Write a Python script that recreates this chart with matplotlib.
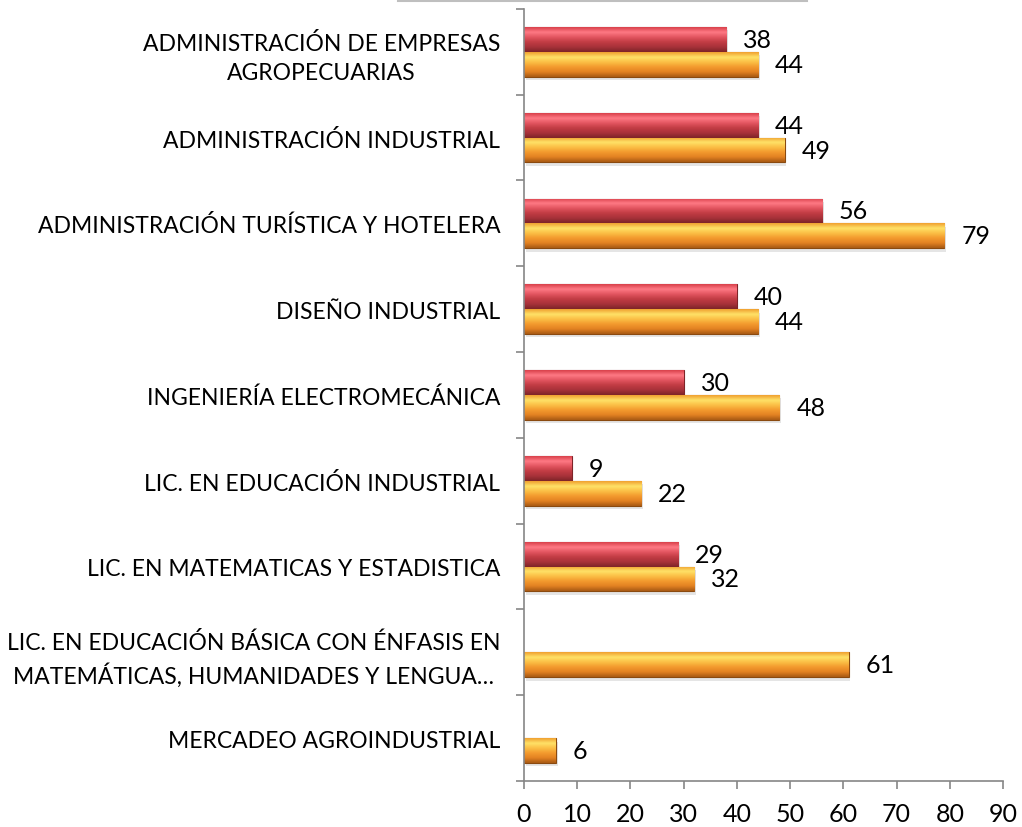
import numpy as np
import matplotlib.pyplot as plt
from matplotlib.colors import LinearSegmentedColormap
from matplotlib.patches import Rectangle

plt.rcParams['font.family'] = ['Lato', 'DejaVu Sans']

categories = [
    "ADMINISTRACIÓN DE EMPRESAS\nAGROPECUARIAS",
    "ADMINISTRACIÓN INDUSTRIAL",
    "ADMINISTRACIÓN TURÍSTICA Y HOTELERA",
    "DISEÑO INDUSTRIAL",
    "INGENIERÍA ELECTROMECÁNICA",
    "LIC. EN EDUCACIÓN INDUSTRIAL",
    "LIC. EN MATEMATICAS Y ESTADISTICA",
    "LIC. EN EDUCACIÓN BÁSICA CON ÉNFASIS EN\nMATEMÁTICAS, HUMANIDADES Y LENGUA…",
    "MERCADEO AGROINDUSTRIAL",
]
red_vals = [38, 44, 56, 40, 30, 9, 29, None, None]
orange_vals = [44, 49, 79, 44, 48, 22, 32, 61, 6]

red_cmap = LinearSegmentedColormap.from_list(
    "red", ["#d8404a", "#ff7a85", "#e25560", "#c23c44", "#a8323a", "#7e2428"])
orange_cmap = LinearSegmentedColormap.from_list(
    "orange", ["#f0a030", "#ffe268", "#fbbf45", "#f39a2e", "#e38222", "#a85a14"])

fig = plt.figure(figsize=(10.22, 8.28), dpi=100)
ax = fig.add_axes([0.5127, 0.0556, 0.4687, 0.9324])

n = len(categories)
pos = np.arange(n)
h = 0.29

red_x = [v if v is not None else 0 for v in red_vals]
bars_red = ax.barh(pos - h / 2, red_x, height=h, color="#c23c44",
                   edgecolor="#7e2428", linewidth=0.8, zorder=2)
bars_or = ax.barh(pos + h / 2, orange_vals, height=h, color="#f39a2e",
                  edgecolor="#8a4a10", linewidth=0.8, zorder=2)

grad = np.linspace(0, 1, 64).reshape(-1, 1)
for bars, cmap in ((bars_red, red_cmap), (bars_or, orange_cmap)):
    for b in bars:
        w = b.get_width()
        if w <= 0:
            b.set_visible(False)
            continue
        x0, y0 = b.get_x(), b.get_y()
        hh = b.get_height()
        # soft shadow beneath
        ax.add_patch(Rectangle((x0 + 0.3, y0 + 0.04), w, hh, color="#000000",
                               alpha=0.10, zorder=1, linewidth=0))
        im = ax.imshow(grad, cmap=cmap, aspect="auto", zorder=2.5,
                       extent=(x0, x0 + w, y0 + hh, y0), interpolation="bicubic")
        im.set_clip_path(b)

for i, v in enumerate(red_vals):
    if v is not None:
        ax.text(v + 3.2, pos[i] - h / 2, str(v), va="center", ha="left",
                fontsize=18, color="#000000")
for i, v in enumerate(orange_vals):
    ax.text(v + 3.2, pos[i] + h / 2, str(v), va="center", ha="left",
            fontsize=18, color="#000000")

ax.set_xlim(0, 90)
ax.set_ylim(n - 0.5, -0.5)
ax.set_xticks(np.arange(0, 91, 10))
ax.set_yticks(pos)
ax.set_yticklabels(categories, fontsize=16.5, multialignment="center")
for t in ax.get_yticklabels():
    t.set_linespacing(1.45)
ax.set_yticks(np.arange(n + 1) - 0.5, minor=True)
ax.tick_params(axis="y", which="major", length=0, pad=17)
ax.tick_params(axis="y", which="minor", length=6, color="#868686", width=1.2)
ax.tick_params(axis="x", length=6, color="#868686", width=1.2, labelsize=18, pad=9)

for s in ("top", "right"):
    ax.spines[s].set_visible(False)
for s in ("left", "bottom"):
    ax.spines[s].set_color("#868686")
    ax.spines[s].set_linewidth(1.2)

# edge of the legend box cut off at the top
fig.patches.append(Rectangle((398 / 1022, 1 - 2 / 828), 409 / 1022, 0.05,
                             transform=fig.transFigure, facecolor="white",
                             edgecolor="#bfbfbf", linewidth=1.5))

fig.savefig("out.png", dpi=100)
